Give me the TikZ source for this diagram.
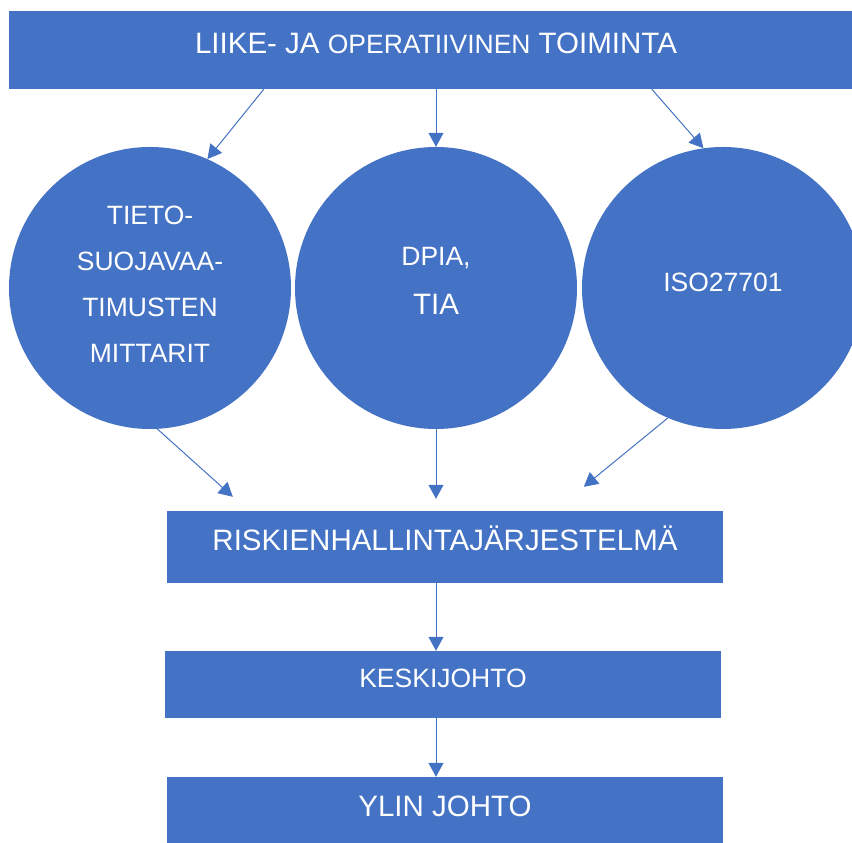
\documentclass[tikz,border=0pt]{standalone}
\usepackage{fontspec}
\setmainfont{Liberation Sans}
\usetikzlibrary{arrows.meta,calc}
\definecolor{officeblue}{HTML}{4472C4}
\newcommand{\bigtxt}{\fontsize{29.5}{35}\selectfont}
\newcommand{\smalltxt}{\fontsize{26.5}{46}\selectfont}
\tikzset{
  bar/.style={fill=officeblue, text=white, inner sep=0pt, text height=21pt, text depth=14pt, font=\bigtxt},
  disc/.style={circle, fill=officeblue, minimum size=282pt, inner sep=0pt},
  ctext/.style={text=white, font=\smalltxt, align=center, inner sep=0pt},
  flow/.style={officeblue, line width=1pt, -{Triangle[length=14pt,width=15pt]}}
}
\begin{document}
\begin{tikzpicture}[x=1pt,y=1pt]
  \useasboundingbox (0,0) rectangle (852,843);
  \clip (0,0) rectangle (852,843);
  \node[bar, minimum width=854pt, minimum height=78pt] (toim) at (436,793)
    {LIIKE- JA {\smalltxt OPERATIIVINEN} TOIMINTA};
  \node[disc, label={[ctext,yshift=3.5pt]center:TIETO-\\SUOJAVAA-\\TIMUSTEN\\MITTARIT}] (tsm) at (150,555) {};
  \node[disc, label={[ctext,yshift=29.5pt]center:{DPIA,}},
    label={[ctext,font=\bigtxt,yshift=-16.5pt]center:TIA}] (dp) at (436,555) {};
  \node[disc, label={[ctext,yshift=6pt]center:ISO27701}] (iso) at (723,555) {};
  \node[bar, minimum width=556pt, minimum height=72pt] (riski) at (445,296) {RISKIENHALLINTAJÄRJESTELMÄ};
  \node[bar, font=\smalltxt, minimum width=556pt, minimum height=67pt] (keski) at (443,158.5) {KESKIJOHTO};
  \node[bar, minimum width=556pt, minimum height=72pt] (ylin) at (445,30) {YLIN JOHTO};
  \coordinate (inL) at ($(riski.north west)+(66,14)$);
  \coordinate (inM) at ($(riski.north -| dp.south)+(0,12)$);
  \coordinate (inR) at ($(riski.north west)+(417,24)$);
  \draw[flow] ($(toim.south west)+(255,0)$) -- (tsm.66);
  \draw[flow] (toim.south -| dp.north) -- (dp.north);
  \draw[flow] ($(toim.south west)+(643,0)$) -- (iso.98);
  \draw[flow] (tsm.-87) -- (inL);
  \draw[flow] (dp.south) -- (inM);
  \draw[flow] (iso.-113) -- (inR);
  \draw[flow] (riski.south -| dp.south) -- (keski.north -| dp.south);
  \draw[flow] (keski.south -| dp.south) -- (ylin.north -| dp.south);
\end{tikzpicture}
\end{document}
